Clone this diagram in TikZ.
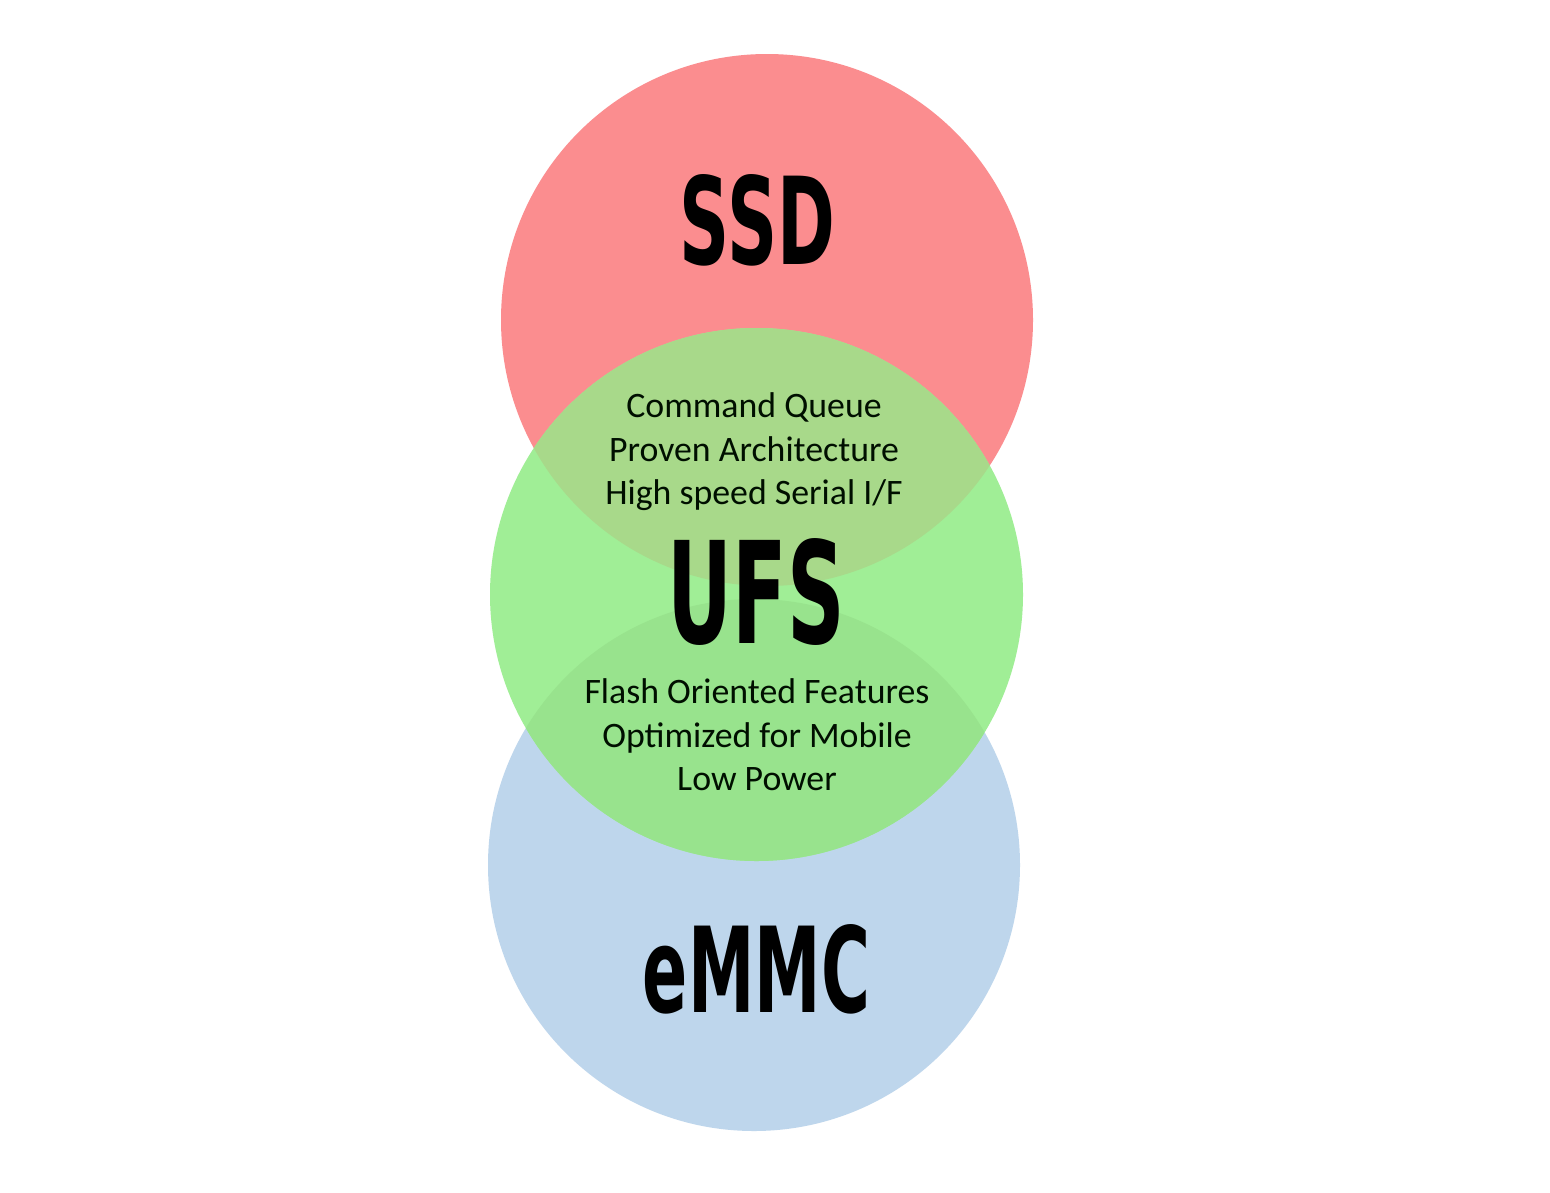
\documentclass[tikz,border=0pt]{standalone}
\usepackage{fontspec}
\setmainfont{Carlito}
\newfontfamily\labfont{DejaVu Sans}[BoldFont={DejaVu Sans Bold}]
\definecolor{ssdred}{HTML}{FB8D8F}
\definecolor{ufsgreen}{HTML}{A0EE96}
\definecolor{emmcblue}{HTML}{BED6EC}
\definecolor{topmix}{HTML}{A8D98A}
\definecolor{botmix}{HTML}{98E38D}
\tikzset{
  bigtext/.style={inner sep=0pt, text=black},
  smalltext/.style={inner sep=0pt, align=center, text=black!85!green!40!black, font=\fontsize{35.8}{43.5}\selectfont}
}
\newcommand{\biglab}[3]{\resizebox{#1pt}{#2pt}{\labfont\bfseries #3}}
\begin{document}
\begin{tikzpicture}[x=1pt,y=-1pt]
\useasboundingbox (0,0) rectangle (1550,1192);
\fill[white] (0,0) rectangle (1550,1192);
\coordinate (cs) at (767,320);
\coordinate (cu) at (756.5,594.5);
\coordinate (ce) at (754,865);
\fill[ssdred] (cs) circle (266);
\fill[emmcblue] (ce) circle (266);
\fill[ufsgreen] (cu) circle (266.5);
\begin{scope}
  \clip (cs) circle (266);
  \fill[topmix] (cu) circle (266.5);
\end{scope}
\begin{scope}
  \clip (ce) circle (266);
  \fill[botmix] (cu) circle (266.5);
\end{scope}
\node[bigtext] (ssd) at (757.5,220) {\biglab{155}{90}{SSD}};
\node[bigtext] (ufs) at (756.5,592) {\biglab{177}{105}{UFS}};
\node[bigtext] (emmc) at (756.5,969) {\biglab{227}{88}{eMMC}};
\node[smalltext] (top) at (754,452) {Command Queue\\Proven Architecture\\High speed Serial I/F};
\node[smalltext] (bot) at (757,735) {Flash Oriented Features\\Optimized for Mobile\\Low Power};
\end{tikzpicture}
\end{document}
